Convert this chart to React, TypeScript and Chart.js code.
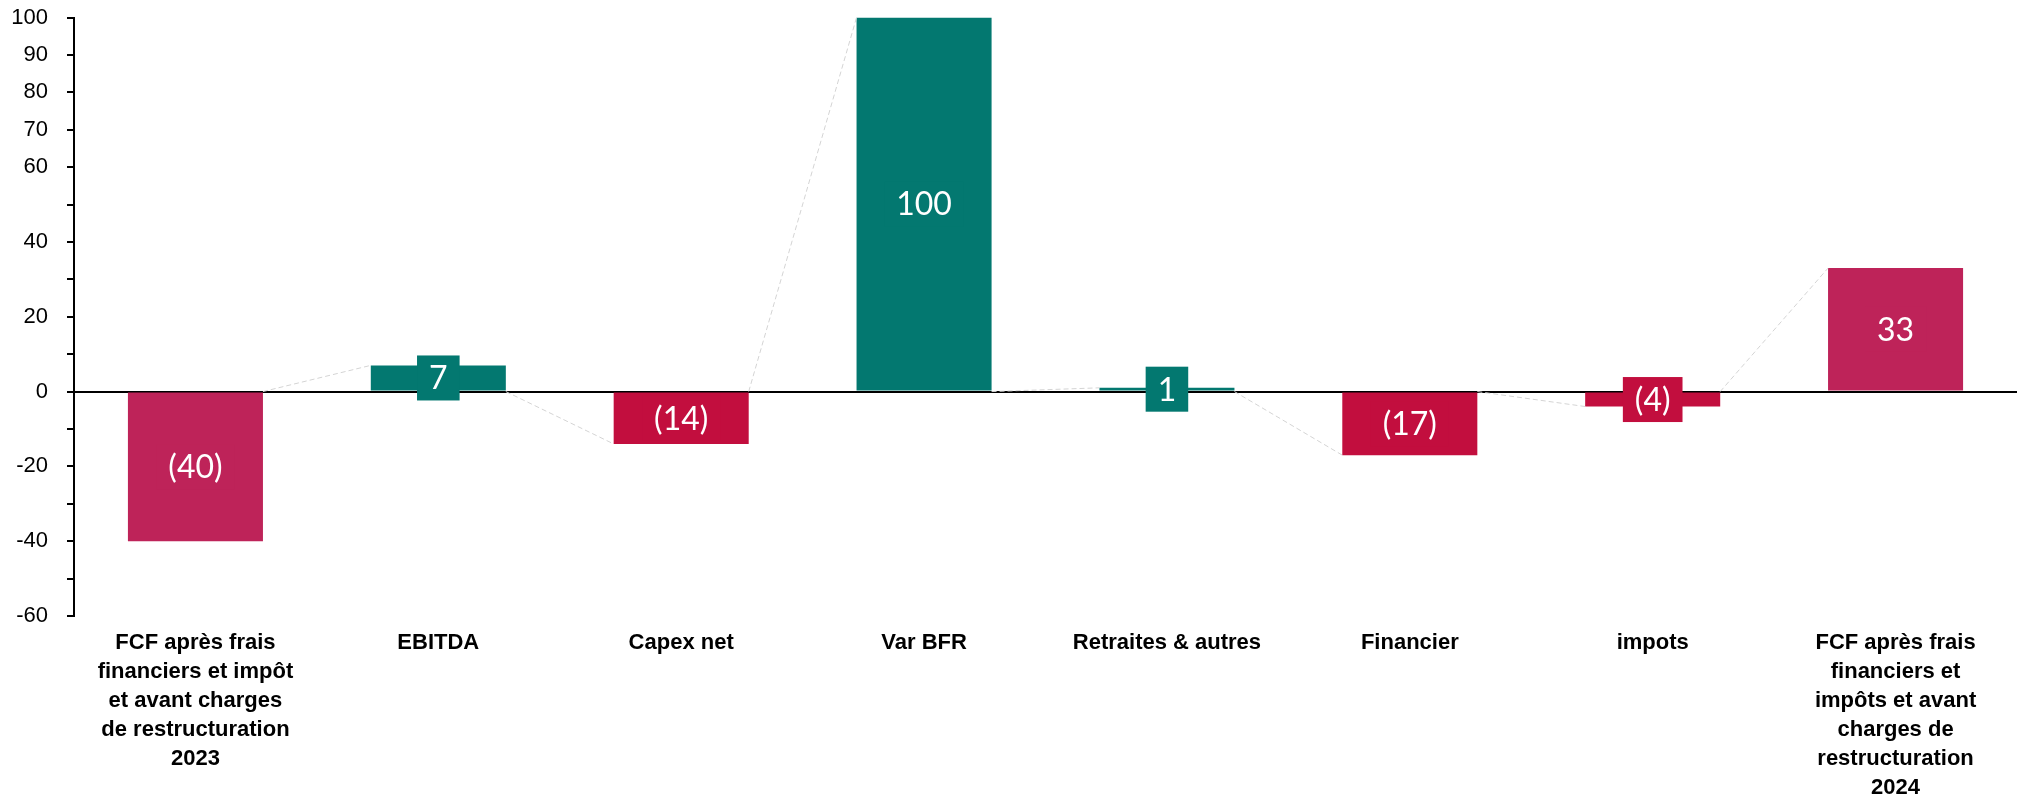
import React, { useEffect, useRef } from "react";
import { Chart, registerables } from "chart.js";

Chart.register(...registerables);

const categories: string[][] = [
  ["FCF après frais", "financiers et impôt", "et avant charges", "de restructuration", "2023"],
  ["EBITDA"],
  ["Capex net"],
  ["Var BFR"],
  ["Retraites & autres"],
  ["Financier"],
  ["impots"],
  ["FCF après frais", "financiers et", "impôts et avant", "charges de", "restructuration", "2024"],
];

const values: number[] = [-40, 7, -14, 100, 1, -17, -4, 33];
const barKinds: string[] = ["total", "delta", "delta", "delta", "delta", "delta", "delta", "total"];
const yTickLabels: number[] = [-60, -40, -20, 0, 20, 40, 60, 70, 80, 90, 100];

const TOTAL_COLOR = "#BE2359";
const UP_COLOR = "#037870";
const DOWN_COLOR = "#C20E3E";

const barColors = values.map((v, i) =>
  barKinds[i] === "total" ? TOTAL_COLOR : v >= 0 ? UP_COLOR : DOWN_COLOR
);

const fmt = (v: number) => (v < 0 ? `(${Math.abs(v)})` : `${v}`);

const overlayPlugin = {
  id: "overlay",
  afterDatasetsDraw(chart: any) {
    const ctx = chart.ctx;
    const meta = chart.getDatasetMeta(0);
    const ys = chart.scales.y;
    const zero = ys.getPixelForValue(0);
    ctx.save();
    ctx.strokeStyle = "#d4d4d4";
    ctx.lineWidth = 1;
    ctx.setLineDash([5, 3]);
    for (let i = 0; i < meta.data.length - 1; i++) {
      const a = meta.data[i] as any;
      const b = meta.data[i + 1] as any;
      ctx.beginPath();
      ctx.moveTo(a.x + a.width / 2, zero);
      ctx.lineTo(b.x - b.width / 2, ys.getPixelForValue(values[i + 1]));
      ctx.stroke();
    }
    ctx.restore();
  },
  afterDraw(chart: any) {
    const ctx = chart.ctx;
    const meta = chart.getDatasetMeta(0);
    ctx.save();
    ctx.font = "32px Lato, 'Noto Sans', sans-serif";
    ctx.textAlign = "center";
    ctx.textBaseline = "middle";
    meta.data.forEach((el: any, i: number) => {
      const cy = (el.y + el.base) / 2;
      const text = fmt(values[i]);
      const tw = ctx.measureText(text).width;
      const bw = tw + 24;
      const bh = 45;
      ctx.fillStyle = barColors[i];
      ctx.fillRect(el.x - bw / 2, cy - bh / 2, bw, bh);
      ctx.fillStyle = "#ffffff";
      ctx.fillText(text, el.x, cy + 1);
    });
    ctx.restore();
  },
};

export default function App() {
  const ref = useRef<HTMLCanvasElement | null>(null);
  useEffect(() => {
    if (!ref.current) return;
    const chart = new Chart(ref.current, {
      type: "bar",
      data: {
        labels: categories as any,
        datasets: [
          {
            data: values,
            backgroundColor: barColors,
            borderWidth: 0,
            categoryPercentage: 1,
            barPercentage: 0.556,
          },
        ],
      },
      options: {
        responsive: false,
        animation: false,
        layout: { padding: { top: 17.5, right: 6, bottom: 0, left: 0 } },
        plugins: { legend: { display: false }, tooltip: { enabled: false } },
        scales: {
          x: {
            grid: { display: false },
            border: { display: false },
            ticks: {
              autoSkip: false,
              maxRotation: 0,
              minRotation: 0,
              padding: 4,
              color: "#000",
              font: { family: "'Liberation Sans', Arial, sans-serif", size: 22, weight: "bold", lineHeight: 1.32 },
            },
            afterFit: (s: any) => {
              s.height = 186;
              s.paddingTop = 0;
              s.paddingBottom = 0;
            },
          },
          y: {
            min: -60,
            max: 100,
            z: 1,
            border: { display: true, color: "#000", width: 2 },
            grid: {
              drawOnChartArea: true,
              color: (c: any) => (c.tick && c.tick.value === 0 ? "#000" : "rgba(0,0,0,0)"),
              tickColor: "#000",
              tickLength: 7,
              lineWidth: 2,
            },
            ticks: {
              stepSize: 10,
              padding: 19,
              color: "#000",
              font: { family: "'Liberation Sans', Arial, sans-serif", size: 22 },
              callback: (v: any) => (yTickLabels.includes(Number(v)) ? String(v) : ""),
            },
            afterFit: (s: any) => {
              s.width = 74;
              s.paddingTop = 0;
              s.paddingBottom = 0;
            },
          },
        },
      },
      plugins: [overlayPlugin],
    });
    return () => chart.destroy();
  }, []);
  return (
    <div style={{ position: "absolute", left: 0, top: 0, width: 2023, height: 802, background: "#fff" }}>
      <canvas ref={ref} width={2023} height={802} style={{ display: "block" }} />
    </div>
  );
}
